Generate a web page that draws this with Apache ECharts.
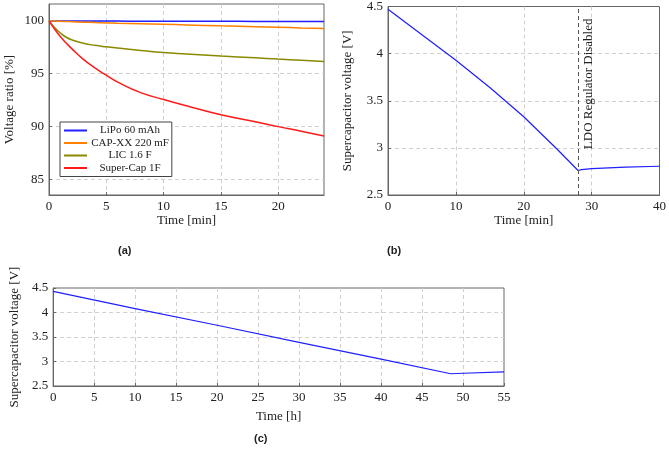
<!DOCTYPE html>
<html>
<head>
<meta charset="utf-8">
<script src="https://cdn.jsdelivr.net/npm/echarts@6/dist/echarts.min.js"></script>
<style>
  html, body { margin: 0; padding: 0; background: #fff; }
  #main { width: 669px; height: 452px; }
</style>
</head>
<body>
<div id="main"></div>
<script>
// (a) voltage ratio vs time
const timeA = [0, 0.5, 1, 1.5, 2, 3, 4, 5, 6, 8, 10, 12, 15, 18, 20, 22, 24];
const lipo = [100, 100, 100, 100, 99.99, 99.99, 99.99, 99.98, 99.98, 99.97, 99.97, 99.96, 99.96, 99.95, 99.95, 99.94, 99.94];
const capxx = [100, 99.98, 99.96, 99.94, 99.92, 99.88, 99.84, 99.81, 99.78, 99.73, 99.68, 99.62, 99.53, 99.45, 99.4, 99.33, 99.27];
const lic = [100, 99.35, 98.85, 98.45, 98.2, 97.88, 97.68, 97.54, 97.42, 97.2, 97.0, 96.87, 96.68, 96.5, 96.38, 96.27, 96.15];
const superCap = [100, 99.2, 98.5, 97.9, 97.35, 96.35, 95.55, 94.85, 94.2, 93.2, 92.55, 91.95, 91.1, 90.45, 89.98, 89.55, 89.1];

// (b) supercap voltage, minutes
const timeB = [0, 5, 10, 15, 20, 25, 28, 28.5, 30, 35, 40];
const voltB = [4.47, 4.2, 3.93, 3.64, 3.33, 2.98, 2.76, 2.77, 2.78, 2.795, 2.805];
const ldoOff = 28;

// (c) supercap voltage, hours
const timeC = [0, 10, 20, 30, 40, 48.5, 50, 55];
const voltC = [4.43, 4.08, 3.74, 3.39, 3.05, 2.75, 2.76, 2.79];

const serif = 'Liberation Serif';
const axisCol = '#666';
const gridCol = '#d0d0d0';

function pairs(xs, ys) {
  return xs.map((x, i) => [x, ys[i]]);
}

function valAxis(extra) {
  return Object.assign({
    type: 'value',
    axisLine: { show: true, lineStyle: { color: axisCol } },
    axisTick: { show: true, inside: true, length: 3, lineStyle: { color: axisCol } },
    axisLabel: { color: '#222', fontFamily: serif, fontSize: 13, margin: 5 },
    splitLine: { show: true, showMinLine: false, showMaxLine: false,
      lineStyle: { color: gridCol, type: [4, 3] } },
    nameLocation: 'middle',
    nameTextStyle: { color: '#222', fontFamily: serif, fontSize: 13 }
  }, extra);
}

const myChart = echarts.init(document.getElementById('main'));

const option = {
  animation: false,
  grid: [
    { left: 49, top: 4, width: 275, height: 191, show: true, borderColor: axisCol, borderWidth: 1 },
    { left: 388, top: 5, width: 274, height: 190, show: true, borderColor: axisCol, borderWidth: 1 },
    { left: 48, top: 288, width: 456, height: 98, show: true, borderColor: axisCol, borderWidth: 1 }
  ],
  xAxis: [
    valAxis({ gridIndex: 0, min: 0, max: 24, interval: 5, name: 'Time [min]', nameGap: 15,
      axisLabel: { color: '#222', fontFamily: serif, fontSize: 13, margin: 5, showMaxLabel: false } }),
    valAxis({ gridIndex: 1, min: 0, max: 40, interval: 10, name: 'Time [min]', nameGap: 15 }),
    valAxis({ gridIndex: 2, min: 0, max: 55, interval: 5, name: 'Time [h]', nameGap: 24 })
  ],
  yAxis: [
    valAxis({ gridIndex: 0, min: 83.5, max: 101.6, splitNumber: 4, name: 'Voltage ratio [%]', nameGap: 33,
      axisLabel: { color: '#222', fontFamily: serif, fontSize: 13, margin: 5, showMinLabel: false, showMaxLabel: false } }),
    valAxis({ gridIndex: 1, min: 2.5, max: 4.5, interval: 0.5, name: 'Supercapacitor voltage [V]', nameGap: 34 }),
    valAxis({ gridIndex: 2, min: 2.5, max: 4.5, interval: 0.5, name: 'Supercapacitor voltage [V]', nameGap: 21 })
  ],
  legend: {
    left: 60, top: 122,
    orient: 'vertical',
    backgroundColor: '#fff',
    borderColor: '#444', borderWidth: 1, borderRadius: 0,
    padding: [3, 3, 3, 4],
    itemGap: 1.5,
    itemWidth: 23, itemHeight: 2,
    icon: 'rect',
    formatter: '{c|{name}}',
    textStyle: {
      fontFamily: serif, fontSize: 11, color: '#222',
      rich: { c: { width: 76, align: 'center', fontFamily: serif, fontSize: 11, color: '#222' } }
    },
    data: ['LiPo 60 mAh', 'CAP-XX 220 mF', 'LIC 1.6 F', 'Super-Cap 1F']
  },
  series: [
    { name: 'LiPo 60 mAh', type: 'line', xAxisIndex: 0, yAxisIndex: 0, data: pairs(timeA, lipo),
      showSymbol: false, smooth: true, lineStyle: { width: 1.5, color: '#1f1fff' }, itemStyle: { color: '#1f1fff' } },
    { name: 'CAP-XX 220 mF', type: 'line', xAxisIndex: 0, yAxisIndex: 0, data: pairs(timeA, capxx),
      showSymbol: false, smooth: true, lineStyle: { width: 1.5, color: '#ff8000' }, itemStyle: { color: '#ff8000' } },
    { name: 'LIC 1.6 F', type: 'line', xAxisIndex: 0, yAxisIndex: 0, data: pairs(timeA, lic),
      showSymbol: false, smooth: true, lineStyle: { width: 1.5, color: '#8a8a00' }, itemStyle: { color: '#8a8a00' } },
    { name: 'Super-Cap 1F', type: 'line', xAxisIndex: 0, yAxisIndex: 0, data: pairs(timeA, superCap),
      showSymbol: false, smooth: true, lineStyle: { width: 1.5, color: '#ff1a1a' }, itemStyle: { color: '#ff1a1a' } },
    { name: 'b', type: 'line', xAxisIndex: 1, yAxisIndex: 1, data: pairs(timeB, voltB),
      showSymbol: false, lineStyle: { width: 1.2, color: '#1f1fff' },
      markLine: {
        silent: true, symbol: 'none',
        lineStyle: { type: [4, 3], color: '#555', width: 1 },
        label: { show: true, formatter: 'LDO Regulator Disabled', position: 'insideEndBottom',
          distance: [12, 4], fontFamily: serif, fontSize: 13, color: '#222' },
        data: [{ xAxis: ldoOff }]
      } },
    { name: 'c', type: 'line', xAxisIndex: 2, yAxisIndex: 2, data: pairs(timeC, voltC),
      showSymbol: false, lineStyle: { width: 1.2, color: '#1f1fff' } }
  ],
  graphic: [
    { type: 'text', left: 118, top: 245, style: { text: '(a)', font: 'bold 11px "Liberation Sans"', fill: '#222' } },
    { type: 'text', left: 387, top: 245, style: { text: '(b)', font: 'bold 11px "Liberation Sans"', fill: '#222' } },
    { type: 'text', left: 254, top: 433, style: { text: '(c)', font: 'bold 11px "Liberation Sans"', fill: '#222' } }
  ]
};

myChart.setOption(option);
</script>
</body>
</html>
